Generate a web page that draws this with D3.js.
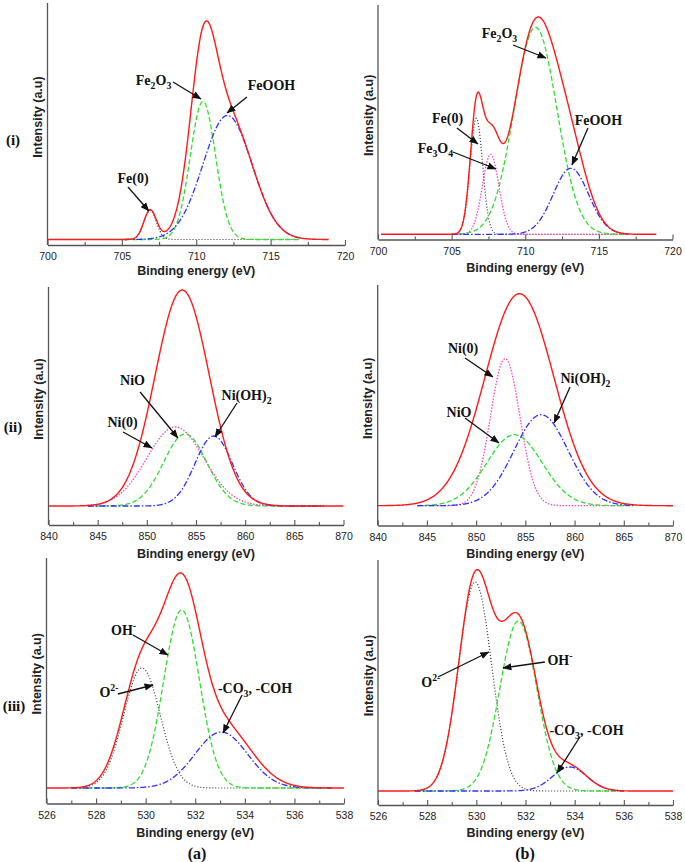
<!DOCTYPE html>
<html><head><meta charset="utf-8">
<script src="https://cdn.jsdelivr.net/npm/d3@7"></script>
<style>body{margin:0;background:#fff}</style>
</head><body>
<svg id="c" width="685" height="862"></svg>
<script>
// ================= DATA (peak parameters) =================
const feTicks = [700, 705, 710, 715, 720];
const niTicks = [840, 845, 850, 855, 860, 865, 870];
const oTicks  = [526, 528, 530, 532, 534, 536, 538];

// (a)(i) Fe 2p
const feA_names  = ["Fe(0)", "Fe2O3", "FeOOH"];
const feA_center = [706.9, 710.45, 712.1];
const feA_height = [29, 138, 124];
const feA_sigma  = [0.42, 0.85, 1.65];
const feA_span   = [705.2, 717];
const feA_envCenter = [706.9, 710.45, 712.1];
const feA_envHeight = [29, 138, 124];
const feA_envSigma  = [0.42, 0.85, 1.65];
const feA_envSpan   = [700, 718.9];

// (b)(i) Fe 2p
const feB_names  = ["Fe(0)", "Fe3O4", "Fe2O3", "FeOOH"];
const feB_center = [706.68, 707.65, 710.7, 713.1];
const feB_height = [116, 80, 207, 66];
const feB_sigma  = [0.42, 0.56, 1.45, 1.2];
const feB_span   = [705, 717];
const feB_envCenter = [706.68, 707.65, 710.7, 713.1];
const feB_envHeight = [116, 80, 207, 66];
const feB_envSigma  = [0.42, 0.56, 1.45, 1.2];
const feB_envSpan   = [700.2, 718.9];

// (a)(ii) Ni 2p
const niA_names  = ["Ni(0)", "NiO", "Ni(OH)2"];
const niA_center = [852.9, 853.9, 856.8];
const niA_height = [79, 72, 70];
const niA_sigma  = [2.9, 2.2, 1.9];
const niA_span   = [844, 868];
const niA_envCenter = [853.6];
const niA_envHeight = [216];
const niA_envSigma  = [2.75];
const niA_envSpan   = [840, 870];

// (b)(ii) Ni 2p
const niB_names  = ["Ni(0)", "NiO", "Ni(OH)2"];
const niB_center = [852.95, 853.9, 856.6];
const niB_height = [147, 71, 91];
const niB_sigma  = [1.5, 2.8, 2.75];
const niB_span   = [844, 866];
const niB_envCenter = [854.4];
const niB_envHeight = [212];
const niB_envSigma  = [3.5];
const niB_envSpan   = [840, 870];

// (a)(iii) O 1s
const oA_names  = ["O2-", "OH-", "CO3"];
const oA_center = [529.85, 531.45, 533.05];
const oA_height = [120, 178, 56];
const oA_sigma  = [0.74, 0.72, 1.06];
const oA_span   = [527, 537.5];
const oA_envCenter = [529.85, 531.45, 533.1];
const oA_envHeight = [120, 178, 62];
const oA_envSigma  = [0.78, 0.75, 1.15];
const oA_envSpan   = [526, 538];

// (b)(iii) O 1s
const oB_names  = ["O2-", "OH-", "CO3"];
const oB_center = [529.95, 531.71, 533.8];
const oB_height = [209, 170, 24];
const oB_sigma  = [0.67, 0.75, 0.7];
const oB_span   = [527.5, 536];
const oB_envCenter = [529.95, 531.71, 533.8];
const oB_envHeight = [209, 170, 24];
const oB_envSigma  = [0.67, 0.75, 0.7];
const oB_envSpan   = [526, 538];

// ================= STYLES =================
const RED = "#ff1a1a";
const styles = {
  black: {stroke: "#333", dash: "1,2", w: 1.2},
  pink:  {stroke: "#ff44c4", dash: "1.5,1.5", w: 1.3},
  green: {stroke: "#2fe02f", dash: "5,2.5", w: 1.3},
  blue:  {stroke: "#3030ff", dash: "6,2,1.5,2", w: 1.3}
};
const styleOf = {
  "Fe(0)": "black", "O2-": "black",
  "Fe3O4": "pink", "Ni(0)": "pink",
  "Fe2O3": "green", "NiO": "green", "OH-": "green",
  "FeOOH": "blue", "Ni(OH)2": "blue", "CO3": "blue"
};

// ================= LAYOUT =================
const panels = [
  {px:[47.5,345], axisY:245, base:239.5, top:3, dom:[700,720], ticks:feTicks, minor:2.5, titleY:270,
   names:feA_names, c:feA_center, h:feA_height, s:feA_sigma, span:feA_span,
   ec:feA_envCenter, eh:feA_envHeight, es:feA_envSigma, espan:feA_envSpan,
   ann:[{l:"Fe(0)", t:[705.75,61.5], a:[705.41,52.5,706.82,28.5]},
        {l:"Fe_2O_3", t:[707.13,159.5], a:[708.44,157.5,710.32,140.5]},
        {l:"FeOOH", t:[715.06,154.5], a:[713.41,142.5,712.07,126.5]}]},
  {px:[378,672.5], axisY:239.5, base:234.3, top:5, dom:[700,720], ticks:feTicks, minor:2.5, titleY:267,
   names:feB_names, c:feB_center, h:feB_height, s:feB_sigma, span:feB_span,
   ec:feB_envCenter, eh:feB_envHeight, es:feB_envSigma, espan:feB_envSpan,
   ann:[{l:"Fe_2O_3", t:[708.25,201.3], a:[709.17,189.3,711.41,176.3]},
        {l:"Fe(0)", t:[704.72,116.3], a:[705.36,106.3,706.79,90.3]},
        {l:"Fe_3O_4", t:[703.9,86.3], a:[705.09,82.3,708.01,65.3]},
        {l:"FeOOH", t:[714.97,114.3], a:[714.26,106.3,713.17,69.3]}]},
  {px:[48.5,343.5], axisY:525, base:506, top:287, dom:[840,870], ticks:niTicks, minor:2.5, titleY:553,
   names:niA_names, c:niA_center, h:niA_height, s:niA_sigma, span:niA_span,
   ec:niA_envCenter, eh:niA_envHeight, es:niA_envSigma, espan:niA_envSpan,
   ann:[{l:"NiO", t:[848.54,126], a:[849.31,114,853.17,68]},
        {l:"Ni(0)", t:[847.53,84], a:[847.58,74,850.53,58]},
        {l:"Ni(OH)_2", t:[860.14,111], a:[859.17,103,856.93,69]}]},
  {px:[377.7,673], axisY:525.5, base:505.7, top:285, dom:[840,870], ticks:niTicks, minor:2.5, titleY:553,
   names:niB_names, c:niB_center, h:niB_height, s:niB_sigma, span:niB_span,
   ec:niB_envCenter, eh:niB_envHeight, es:niB_envSigma, espan:niB_envSpan,
   ann:[{l:"Ni(0)", t:[848.67,157.7], a:[848.87,147.7,851.71,128.7]},
        {l:"NiO", t:[848.26,93.7], a:[848.87,87.7,852.32,62.7]},
        {l:"Ni(OH)_2", t:[861.11,127.7], a:[859.54,118.7,857.92,82.7]}]},
  {px:[46.5,344], axisY:803.5, base:788, top:558, dom:[526,538], ticks:oTicks, minor:1, titleY:832,
   names:oA_names, c:oA_center, h:oA_height, s:oA_sigma, span:oA_span,
   ec:oA_envCenter, eh:oA_envHeight, es:oA_envSigma, espan:oA_envSpan,
   ann:[{l:"OH^-", t:[529.11,158], a:[529.49,153,530.90,133]},
        {l:"O^2-", t:[528.52,96], a:[528.88,94,530.30,103]},
        {l:"-CO_3, -COH", t:[534.41,100], a:[533.89,93,533.12,55]}]},
  {px:[378,673], axisY:805, base:791, top:560, dom:[526,538], ticks:oTicks, minor:1, titleY:832,
   names:oB_names, c:oB_center, h:oB_height, s:oB_sigma, span:oB_span,
   ec:oB_envCenter, eh:oB_envHeight, es:oB_envSigma, espan:oB_envSpan,
   ann:[{l:"O^2-", t:[528.15,109], a:[528.44,114,530.51,139]},
        {l:"OH^-", t:[533.4,131], a:[532.79,129,531.08,123]},
        {l:"-CO_3, -COH", t:[534.48,61], a:[534.21,54,533.28,18]}]}
];

const svg = d3.select("#c");
svg.append("rect").attr("width",685).attr("height",862).attr("fill","#fff");
svg.append("defs").append("marker").attr("id","ah")
  .attr("viewBox","0 -4 9 8").attr("refX",8.5).attr("refY",0)
  .attr("markerUnits","userSpaceOnUse").attr("markerWidth",9).attr("markerHeight",8)
  .attr("orient","auto")
  .append("path").attr("d","M0,-3.6L9,0L0,3.6Z").attr("fill","#111");

const SANS = "'Liberation Sans', Arial, sans-serif";
const SERIF = "'Liberation Serif', 'Times New Roman', serif";

function richText(g, str, x, y, size, anchor) {
  const t = g.append("text").attr("x", x).attr("y", y)
    .attr("text-anchor", anchor).attr("font-family", SERIF)
    .attr("font-weight", "bold").attr("font-size", size).attr("fill", "#111");
  const parts = str.split(/(_[0-9]+|\^[0-9]*-)/).filter(p => p.length);
  let shift = 0;
  parts.forEach(p => {
    let target = 0, txt = p, fs = size;
    if (p[0] === "_") { target = size * 0.3; txt = p.slice(1); fs = size * 0.7; }
    else if (p[0] === "^") { target = -size * 0.38; txt = p.slice(1); fs = size * 0.7; }
    t.append("tspan").attr("dy", target - shift).attr("font-size", fs).text(txt);
    shift = target;
  });
}

function gauss(e, c, h, s) {
  let v = 0;
  for (let i = 0; i < c.length; i++) v += h[i] * Math.exp(-0.5 * Math.pow((e - c[i]) / s[i], 2));
  return v;
}

panels.forEach(P => {
  const g = svg.append("g");
  const x = d3.scaleLinear().domain(P.dom).range(P.px);
  const y = d3.scaleLinear().domain([P.base - P.axisY, P.base - P.top]).range([P.axisY, P.top]);
  const line = d3.line().x(d => x(d[0])).y(d => y(d[1]));

  // components
  P.names.forEach((n, i) => {
    const st = styles[styleOf[n]];
    const n0 = 500, step = (P.span[1] - P.span[0]) / n0;
    const pts = d3.range(n0 + 1).map(k => {
      const e = P.span[0] + k * step;
      return [e, gauss(e, [P.c[i]], [P.h[i]], [P.s[i]])];
    });
    g.append("path").attr("d", line(pts)).attr("fill","none")
      .attr("stroke", st.stroke).attr("stroke-width", st.w).attr("stroke-dasharray", st.dash);
  });
  // envelope
  {
    const n0 = 600, step = (P.espan[1] - P.espan[0]) / n0;
    const pts = d3.range(n0 + 1).map(k => {
      const e = P.espan[0] + k * step;
      return [e, gauss(e, P.ec, P.eh, P.es)];
    });
    g.append("path").attr("d", line(pts)).attr("fill","none")
      .attr("stroke", RED).attr("stroke-width", 1.4);
  }

  // axes
  const minorTicks = d3.range(P.dom[0], P.dom[1] + 1e-9, P.minor).filter(v => !P.ticks.includes(v));
  const ax = g.append("g").attr("transform", `translate(0,${P.axisY})`)
    .call(d3.axisBottom(x).tickValues(P.ticks).tickSizeInner(-5).tickSizeOuter(0).tickPadding(8));
  const axm = g.append("g").attr("transform", `translate(0,${P.axisY})`)
    .call(d3.axisBottom(x).tickValues(minorTicks).tickSizeInner(-3).tickSizeOuter(0).tickFormat(""));
  [ax, axm].forEach(a => {
    a.select(".domain").attr("stroke", "#555").attr("stroke-width", 1.3);
    a.selectAll(".tick line").attr("stroke", "#555").attr("stroke-width", 1.1);
  });
  axm.select(".domain").remove();
  ax.selectAll(".tick text").attr("font-family", SANS).attr("font-size", 10.5).attr("fill", "#222");
  g.append("line").attr("x1", P.px[0]).attr("x2", P.px[0]).attr("y1", P.top).attr("y2", P.axisY)
    .attr("stroke", "#555").attr("stroke-width", 1.3);

  // titles
  g.append("text").attr("x", (P.px[0] + P.px[1]) / 2).attr("y", P.titleY + 4.5)
    .attr("text-anchor", "middle").attr("font-family", SANS).attr("font-weight", "bold")
    .attr("font-size", 12.5).attr("fill", "#222").text("Binding energy (eV)");
  const yc = (P.top + P.axisY) / 2 - 7;
  g.append("text").attr("transform", `translate(${P.px[0] - 9.5},${yc}) rotate(-90)`)
    .attr("text-anchor", "middle").attr("dominant-baseline", "central")
    .attr("font-family", SANS).attr("font-weight", "bold")
    .attr("font-size", 12.5).attr("fill", "#222").text("Intensity (a.u)");

  // annotations
  P.ann.forEach(A => {
    g.append("line").attr("x1", x(A.a[0])).attr("y1", y(A.a[1]))
      .attr("x2", x(A.a[2])).attr("y2", y(A.a[3]))
      .attr("stroke", "#111").attr("stroke-width", 1.3).attr("marker-end", "url(#ah)");
    richText(g, A.l, x(A.t[0]), y(A.t[1]) + 4.7, 14, "middle");
  });
});

// row & column labels
[["(i)", 13, 140], ["(ii)", 13, 427], ["(iii)", 14, 706]].forEach(r =>
  svg.append("text").attr("x", r[1]).attr("y", r[2] + 5).attr("text-anchor", "middle")
    .attr("font-family", SERIF).attr("font-weight", "bold").attr("font-size", 15)
    .attr("fill", "#111").text(r[0]));
[["(a)", 197, 853], ["(b)", 525, 853]].forEach(r =>
  svg.append("text").attr("x", r[1]).attr("y", r[2] + 5.5).attr("text-anchor", "middle")
    .attr("font-family", SERIF).attr("font-weight", "bold").attr("font-size", 16)
    .attr("fill", "#111").text(r[0]));
</script>
</body></html>
